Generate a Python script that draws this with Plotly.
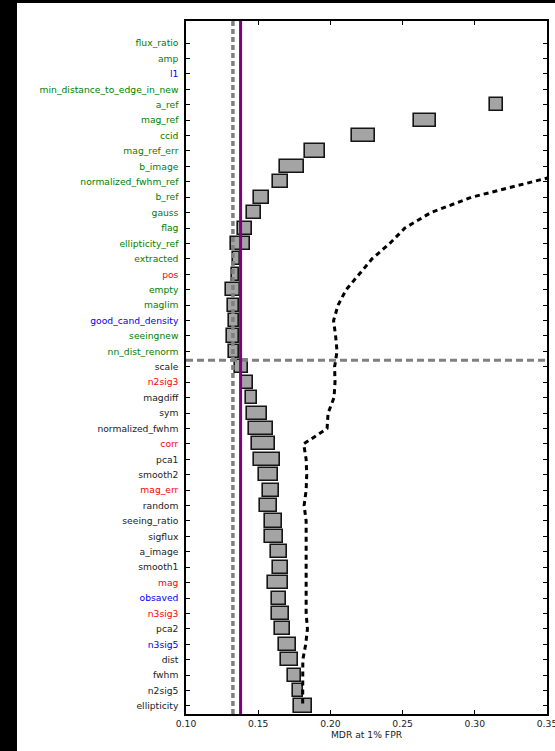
import plotly.graph_objects as go

# ---------------- data (top row first) ----------------
features = [
    "flux_ratio", "amp", "l1", "min_distance_to_edge_in_new", "a_ref", "mag_ref",
    "ccid", "mag_ref_err", "b_image", "normalized_fwhm_ref", "b_ref", "gauss",
    "flag", "ellipticity_ref", "extracted", "pos", "empty", "maglim",
    "good_cand_density", "seeingnew", "nn_dist_renorm", "scale", "n2sig3",
    "magdiff", "sym", "normalized_fwhm", "corr", "pca1", "smooth2", "mag_err",
    "random", "seeing_ratio", "sigflux", "a_image", "smooth1", "mag", "obsaved",
    "n3sig3", "pca2", "n3sig5", "dist", "fwhm", "n2sig5", "ellipticity",
]

label_groups = [
    "g", "g", "b", "g", "g", "g",
    "g", "g", "g", "g", "g", "g",
    "g", "g", "g", "r", "g", "g",
    "b", "g", "g", "k", "r",
    "k", "k", "k", "r", "k", "k", "r",
    "k", "k", "k", "k", "k", "r", "b",
    "r", "k", "b", "k", "k", "k", "k",
]

mdr_low = [
    None, None, None, None, 0.3108, 0.2580,
    0.2152, 0.1825, 0.1648, 0.1600, 0.1473, 0.1425,
    0.1360, 0.1312, 0.1326, 0.1319, 0.1275, 0.1291,
    0.1296, 0.1285, 0.1298, 0.1337, 0.1385,
    0.1418, 0.1425, 0.1434, 0.1457, 0.1473, 0.1503, 0.1530,
    0.1512, 0.1544, 0.1544, 0.1586, 0.1599, 0.1570, 0.1593,
    0.1593, 0.1618, 0.1641, 0.1660, 0.1706, 0.1738, 0.1751,
]

mdr_high = [
    None, None, None, None, 0.3195, 0.2728,
    0.2311, 0.1961, 0.1818, 0.1706, 0.1572, 0.1517,
    0.1459, 0.1443, 0.1376, 0.1370, 0.1372, 0.1369,
    0.1369, 0.1369, 0.1369, 0.1427, 0.1464,
    0.1492, 0.1561, 0.1602, 0.1618, 0.1653, 0.1634, 0.1641,
    0.1632, 0.1666, 0.1675, 0.1696, 0.1706, 0.1706, 0.1692,
    0.1715, 0.1722, 0.1763, 0.1779, 0.1796, 0.1809, 0.1872,
]

curve_mdr = [
    None, None, None, None, None, None,
    None, None, 0.382, 0.3398, 0.2978, 0.2695,
    0.2516, 0.2411, 0.2288, 0.2199, 0.2109, 0.2053,
    0.2022, 0.2036, 0.2046, 0.2029, 0.2032,
    0.2025, 0.1984, 0.1977, 0.1815, 0.1832, 0.1836, 0.1832,
    0.1818, 0.1832, 0.1832, 0.1827, 0.1827, 0.1832, 0.1832,
    0.1832, 0.1841, 0.1829, 0.1809, 0.1808, 0.1805, 0.1808,
]

x_ticks = [0.10, 0.15, 0.20, 0.25, 0.30, 0.35]
x_range = [0.10, 0.35]
baseline_mdr = 0.1325
best_mdr = 0.1378
split_feature = "scale"
x_title = "MDR at 1% FPR"

# ---------------- styling ----------------
color_map = {"g": "#008000", "b": "#0000ff", "r": "#ff0000", "k": "#222222"}
FONT = "DejaVu Sans"
W, H = 555, 751
ML, MR, MT, MB = 186, 8, 21, 37
PW, PH = W - ML - MR, H - MT - MB

order_bottom_up = features[::-1]
n = len(features)
split_y = order_bottom_up.index(split_feature) + 0.42

widths = [None if lo is None else hi - lo for lo, hi in zip(mdr_low, mdr_high)]
ticktext = [f'<span style="color:{color_map[g]}">{f}</span>' for f, g in zip(features, label_groups)]

fig = go.Figure()
fig.add_trace(go.Bar(
    orientation="h", y=features, x=widths, base=mdr_low, width=0.85,
    marker=dict(color="#a4a4a4", line=dict(color="#151515", width=1.6)),
    hoverinfo="skip", showlegend=False,
))
fig.add_trace(go.Scatter(
    x=curve_mdr, y=features, mode="lines", connectgaps=False,
    line=dict(color="black", width=3, dash="5px,4px"),
    hoverinfo="skip", showlegend=False,
))

# reference lines
fig.add_shape(type="line", xref="x", yref="paper", x0=baseline_mdr, x1=baseline_mdr, y0=0, y1=1,
              line=dict(color="#808080", width=3.5, dash="5px,3px"), layer="above")
fig.add_shape(type="line", xref="paper", yref="y", x0=0, x1=1, y0=split_y, y1=split_y,
              line=dict(color="#808080", width=3, dash="7px,4px"), layer="above")
fig.add_shape(type="line", xref="x", yref="paper", x0=best_mdr, x1=best_mdr, y0=0, y1=1,
              line=dict(color="#800080", width=3), layer="above")


def px_to_paper_x(px):
    return (px - ML) / PW


def px_to_paper_y(py):
    return (H - MB - py) / PH


# black border strips of the original screenshot
fig.add_shape(type="rect", xref="paper", yref="paper",
              x0=px_to_paper_x(-2), x1=px_to_paper_x(17), y0=px_to_paper_y(H + 2), y1=px_to_paper_y(-2),
              fillcolor="black", line=dict(width=0), layer="below")
fig.add_shape(type="rect", xref="paper", yref="paper",
              x0=px_to_paper_x(-2), x1=px_to_paper_x(W + 2), y0=px_to_paper_y(3), y1=px_to_paper_y(-2),
              fillcolor="black", line=dict(width=0), layer="below")

fig.update_layout(
    width=W, height=H,
    margin=dict(l=ML, r=MR, t=MT, b=MB, pad=0, autoexpand=False),
    paper_bgcolor="white", plot_bgcolor="white",
    font=dict(family=FONT, size=9, color="#222222"),
    bargap=0, showlegend=False,
)
fig.update_xaxes(
    range=x_range, tickvals=x_ticks, tickformat=".2f", automargin=False,
    ticks="inside", ticklen=4, tickwidth=1, tickcolor="black",
    showline=True, linecolor="black", linewidth=1.5, mirror="ticks",
    showgrid=False, zeroline=False, ticklabeloverflow="allow",
    tickfont=dict(family=FONT, size=9.2, color="#222222"),
    title=dict(text=x_title, font=dict(family=FONT, size=9.2, color="#222222"), standoff=2),
)
fig.update_yaxes(
    type="category", categoryorder="array", categoryarray=order_bottom_up,
    range=[-0.52, n - 1 + 1.43], automargin=False,
    tickvals=features, ticktext=ticktext,
    ticks="inside", ticklen=4, tickwidth=1, tickcolor="black",
    showline=True, linecolor="black", linewidth=1.5, mirror="ticks",
    showgrid=False, zeroline=False, ticklabelstandoff=4,
    tickfont=dict(family=FONT, size=9.2),
)

fig.write_html("out.html")
